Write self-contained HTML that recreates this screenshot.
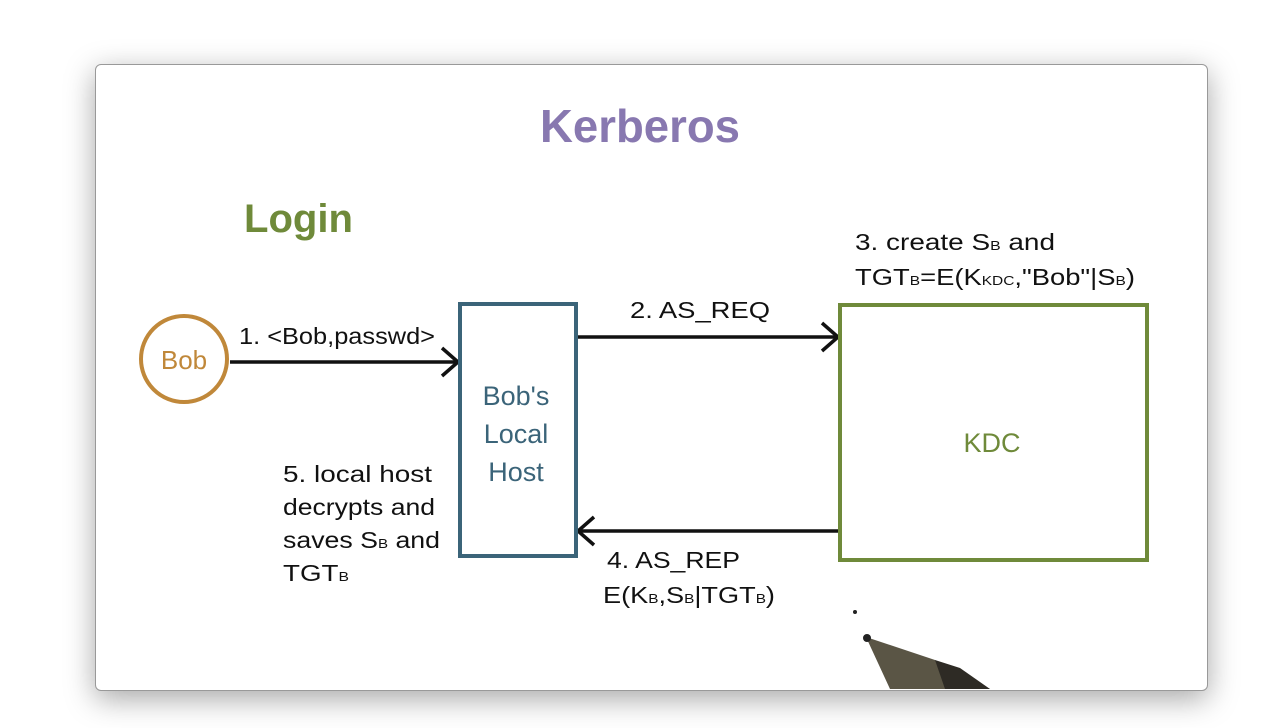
<!DOCTYPE html>
<html><head><style>
body{margin:0;width:1274px;height:728px;background:#fff;overflow:hidden;position:relative;font-family:"Liberation Sans",sans-serif}
#card{position:absolute;left:95px;top:64px;width:1111px;height:625px;border:1px solid #999;border-radius:6px;background:#fff;box-shadow:0 8px 30px rgba(0,0,0,.35);overflow:hidden}
</style></head><body>
<div id="card"></div>
<svg width="1274" height="728" style="position:absolute;left:0;top:0" font-family="Liberation Sans, sans-serif">
<text x="540" y="142" font-size="46" fill="#8878b0" font-weight="bold" textLength="200" lengthAdjust="spacingAndGlyphs">Kerberos</text>
<text x="244" y="232" font-size="40" fill="#6f8a3a" font-weight="bold" textLength="109" lengthAdjust="spacingAndGlyphs">Login</text>
<circle cx="184" cy="359" r="43" fill="none" stroke="#c0883a" stroke-width="4"/>
<text x="184" y="369" font-size="26" fill="#c0883a" text-anchor="middle">Bob</text>
<g stroke="#111" stroke-width="3.5" fill="none">
<line x1="230" y1="362" x2="458" y2="362"/><polyline points="442,348 458,362 442,376"/>
<line x1="578" y1="337" x2="838" y2="337"/><polyline points="822,323 838,337 822,351"/>
<line x1="838" y1="531" x2="578" y2="531"/><polyline points="594,517 578,531 594,545"/>
</g>
<rect x="460" y="304" width="116" height="252" fill="none" stroke="#3b6479" stroke-width="4"/>
<g font-size="27" fill="#3b6479" text-anchor="middle"><text x="516" y="405">Bob's</text><text x="516" y="443">Local</text><text x="516" y="481">Host</text></g>
<rect x="840" y="305" width="307" height="255" fill="none" stroke="#6f8a3a" stroke-width="4"/>
<text x="992" y="452" font-size="27" fill="#6f8a3a" text-anchor="middle">KDC</text>
<g font-size="23" fill="#111">
<text x="239" y="344" textLength="196" lengthAdjust="spacingAndGlyphs">1. &lt;Bob,passwd&gt;</text>
<text x="630" y="318" textLength="140" lengthAdjust="spacingAndGlyphs">2. AS_REQ</text>
<text x="855" y="250" textLength="200" lengthAdjust="spacingAndGlyphs">3. create S<tspan font-size="13">B</tspan> and</text>
<text x="855" y="285" textLength="280" lengthAdjust="spacingAndGlyphs">TGT<tspan font-size="13">B</tspan>=E(K<tspan font-size="13">KDC</tspan>,"Bob"|S<tspan font-size="13">B</tspan>)</text>
<text x="607" y="568" textLength="133" lengthAdjust="spacingAndGlyphs">4. AS_REP</text>
<text x="603" y="603" textLength="172" lengthAdjust="spacingAndGlyphs">E(K<tspan font-size="13">B</tspan>,S<tspan font-size="13">B</tspan>|TGT<tspan font-size="13">B</tspan>)</text>
<text x="283" y="482" textLength="149" lengthAdjust="spacingAndGlyphs">5. local host</text>
<text x="283" y="515" textLength="152" lengthAdjust="spacingAndGlyphs">decrypts and</text>
<text x="283" y="548" textLength="157" lengthAdjust="spacingAndGlyphs">saves S<tspan font-size="13">B</tspan> and</text>
<text x="283" y="581" textLength="66" lengthAdjust="spacingAndGlyphs">TGT<tspan font-size="13">B</tspan></text>
</g>
<circle cx="855" cy="612" r="2" fill="#222"/>
<polygon points="866,637 935,660 990,689 890,689" fill="#5a5545"/>
<polygon points="935,660 960,668 990,689 945,689" fill="#2e2b25"/>
<circle cx="867" cy="638" r="4" fill="#222"/>
</svg>
</body></html>
